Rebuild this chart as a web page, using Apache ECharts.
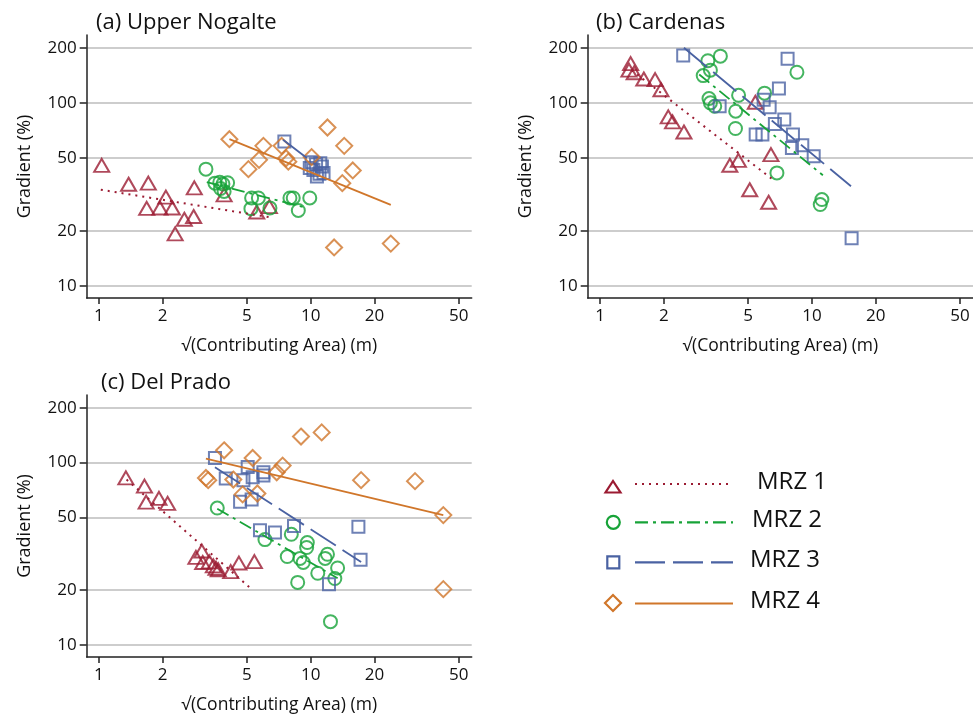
<!DOCTYPE html>
<html><head><meta charset="utf-8">
<script src="https://cdn.jsdelivr.net/npm/echarts@6/dist/echarts.min.js"></script>
<style>html,body{margin:0;padding:0;background:#fff}#c{width:973px;height:715px}</style>
</head><body><div id="c"></div>
<script>
// ---------- tick labels / names ----------
const xTicks = [1, 2, 5, 10, 20, 50];
const yTicks = [10, 20, 50, 100, 200];
const panelTitles = ['(a) Upper Nogalte', '(b) Cardenas', '(c) Del Prado'];
const seriesNames = ['MRZ 1', 'MRZ 2', 'MRZ 3', 'MRZ 4'];
const xName = '√(Contributing Area) (m)';
const yName = 'Gradient (%)';

// ---------- (a) Upper Nogalte ----------
const aMRZ1 = [[1.03,45.5],[1.38,35.9],[1.71,36.4],[2.07,30.5],[1.68,26.5],[1.94,26.6],[2.22,26.6],[2.82,34.3],[2.53,23.1],[2.80,23.9],[2.29,19.2],[3.90,31.4],[5.56,25.3],[6.38,27.1]];
const aMRZ2 = [[3.20,43.4],[3.53,36.4],[3.72,36.8],[3.85,36.0],[4.05,36.6],[3.75,34.0],[3.90,32.8],[5.26,30.2],[5.66,30.2],[5.22,26.4],[6.42,26.6],[7.98,30.2],[8.27,30.2],[8.74,25.8],[9.9,30.2]];
const aMRZ3 = [[7.51,61.5],[9.9,44.0],[10.1,47.4],[11.1,46.8],[11.3,44.9],[10.3,43.0],[10.7,39.6],[11.5,41.3],[10.6,46.2],[11.0,41.0]];
const aMRZ4 = [[4.13,63.3],[5.98,58.2],[7.29,58.2],[5.70,48.8],[5.08,43.4],[7.65,49.8],[7.84,47.7],[10.1,50.5],[12.0,73.3],[14.4,58.2],[15.8,42.7],[14.1,36.4],[12.9,16.2],[23.9,17.0]];
const aFit1 = [[1.02,33.5],[6.38,23.7]];
const aFit2 = [[3.23,36.9],[9.3,26.9]];
const aFit3 = [[7.4,62.8],[10.8,45.0]];
const aFit4 = [[4.13,63.3],[23.9,27.7]];

// ---------- (b) Cardenas ----------
const bMRZ1 = [[1.395,164],[1.37,151],[1.45,146],[1.61,135],[1.82,134],[1.94,118],[2.10,83.8],[2.20,78.7],[2.49,69.3],[5.41,100.8],[6.41,52.1],[4.50,48.5],[4.10,45.6],[5.09,33.5],[6.25,28.6]];
const bMRZ2 = [[3.23,170],[3.70,180],[3.32,151],[3.07,141],[8.50,147],[4.51,110],[5.98,113],[3.27,105.6],[3.32,100],[3.48,95.9],[4.37,90],[4.36,72.4],[6.84,41.4],[11.15,29.6],[10.95,27.8]];
const bMRZ3 = [[2.47,181.6],[7.68,174],[6.99,120],[5.92,104],[6.32,94.7],[3.67,95.9],[7.41,81],[6.69,76.7],[5.43,67.1],[5.84,67.1],[8.14,67.1],[9.01,58.6],[8.05,56.7],[10.2,51.1],[15.4,18.2]];
const bFit1 = [[1.41,151],[6.55,38.0]];
const bFit2 = [[2.94,143],[11.27,40.2]];
const bFit3 = [[2.49,200],[15.3,35.0]];

// ---------- (c) Del Prado ----------
const cMRZ1 = [[1.34,82.4],[1.64,74.3],[1.67,60.7],[1.92,63.6],[2.11,59.7],[3.06,32.7],[2.87,30.2],[3.09,28.3],[3.32,28.5],[3.47,27.1],[3.57,26.3],[3.66,25.8],[4.19,25.2],[4.58,28.1],[5.42,28.6]];
const cMRZ2 = [[3.62,56.3],[6.08,37.8],[8.1,40.4],[9.64,36.4],[9.57,34.2],[7.75,30.5],[8.90,29.8],[9.22,28.3],[12.0,31.4],[11.7,29.8],[13.4,26.4],[10.8,24.7],[13.0,23.1],[8.68,22.0],[12.4,13.4]];
const cMRZ3 = [[3.53,106],[5.04,94.7],[5.98,88.5],[5.98,84.9],[5.32,83.2],[3.97,81.8],[4.81,80.1],[4.64,60.9],[5.26,62.8],[5.76,42.5],[6.78,41.3],[8.34,44.9],[16.8,44.5],[17.2,29.3],[12.2,21.5]];
const cMRZ4 = [[3.90,116.8],[9.0,139],[11.27,146.5],[5.32,106],[7.37,96.3],[6.91,88.5],[3.20,82.4],[3.28,80.1],[4.31,80.7],[17.3,80.1],[31.1,79.1],[4.77,66.9],[5.60,67.7],[42.3,51.5],[42.3,20.2]];
const cFit1 = [[1.35,80.7],[5.26,20.2]];
const cFit2 = [[3.62,55.8],[13.4,23.2]];
const cFit3 = [[3.53,94.3],[17.3,28.5]];
const cFit4 = [[3.20,105],[42.3,51.5]];

// ---------- styles ----------
const FONT = 'Open Sans';
const colors = ['#9B1B32', '#17A338', '#4A62A2', '#D0762A'];
const symbols = ['triangle', 'circle', 'rect', 'diamond'];
const symbolSizes = [[15,13], 13, 12, 16];
const dashes = [[2,5], [13,5,3,5], [30,8], 'solid'];

const X_MIN = 0.875, X_MAX = 57.6, Y_MIN = 8.57, Y_MAX = 235;

const grids = [
  {left: 86.7, top: 35, width: 385, height: 263},
  {left: 587.7, top: 35, width: 385.3, height: 263},
  {left: 86.7, top: 395, width: 385, height: 263}
];

function xAxisFor(i) {
  return {
    type: 'log', logBase: 10, gridIndex: i, min: X_MIN, max: X_MAX,
    name: xName, nameLocation: 'middle', nameGap: 39,
    nameTextStyle: {fontSize: 17.5, color: '#111', fontFamily: FONT},
    axisLine: {show: true, lineStyle: {color: '#222', width: 1.5}},
    axisTick: {show: true, customValues: xTicks, length: 6, lineStyle: {color: '#222', width: 1.5}},
    axisLabel: {customValues: xTicks, fontSize: 17, color: '#111', margin: 10, fontFamily: FONT},
    splitLine: {show: false}, minorTick: {show: false}, minorSplitLine: {show: false}
  };
}
function yAxisFor(i) {
  return {
    type: 'log', logBase: 10, gridIndex: i, min: Y_MIN, max: Y_MAX,
    name: yName, nameLocation: 'middle', nameGap: 53, nameRotate: 90,
    nameTextStyle: {fontSize: 18, color: '#111', fontFamily: FONT},
    axisLine: {show: true, lineStyle: {color: '#222', width: 1.5}},
    axisTick: {show: true, customValues: yTicks, length: 7, lineStyle: {color: '#222', width: 1.5}},
    axisLabel: {customValues: yTicks, fontSize: 17, color: '#111', margin: 10, fontFamily: FONT},
    splitLine: {show: true, lineStyle: {color: '#bdbdbd', width: 1.5}},
    minorTick: {show: false}, minorSplitLine: {show: false}
  };
}

const panelPoints = [[aMRZ1, aMRZ2, aMRZ3, aMRZ4], [bMRZ1, bMRZ2, bMRZ3, null], [cMRZ1, cMRZ2, cMRZ3, cMRZ4]];
const panelFits = [[aFit1, aFit2, aFit3, aFit4], [bFit1, bFit2, bFit3, null], [cFit1, cFit2, cFit3, cFit4]];

const series = [];
panelPoints.forEach((pts, p) => {
  pts.forEach((data, k) => {
    if (!data) return;
    series.push({
      type: 'scatter', name: seriesNames[k], xAxisIndex: p, yAxisIndex: p, data: data,
      symbol: symbols[k], symbolSize: symbolSizes[k], z: 3,
      itemStyle: {color: 'rgba(255,255,255,0)', borderColor: colors[k], borderWidth: 2}
    });
  });
  panelFits[p].forEach((data, k) => {
    if (!data) return;
    series.push({
      type: 'line', name: seriesNames[k], xAxisIndex: p, yAxisIndex: p, data: data,
      showSymbol: false, symbol: 'none', z: 4,
      lineStyle: {color: colors[k], width: k === 0 ? 2 : 1.8, type: dashes[k]}
    });
  });
});

// ---------- legend (drawn as graphic decoration) ----------
const lgY = [484, 522.3, 562.3, 603.5];
const lgTextX = [757, 752, 750, 750];
const graphic = [];
for (let k = 0; k < 4; k++) {
  const y = lgY[k];
  graphic.push({type: 'line', shape: {x1: 635, y1: y, x2: 733, y2: y},
    style: {stroke: colors[k], lineWidth: k === 0 ? 2 : 2.2, lineDash: k === 3 ? null : dashes[k]}});
  graphic.push({type: 'text', left: lgTextX[k], top: y - 14,
    style: {text: seriesNames[k], fontSize: 24, fill: '#111', fontFamily: FONT}});
}
const stroke = (k) => ({stroke: colors[k], lineWidth: 2.2, fill: 'none'});
graphic.push({type: 'polygon', shape: {points: [[605.5,492.5],[620.5,492.5],[613,481]]}, style: stroke(0)});
graphic.push({type: 'circle', shape: {cx: 613.3, cy: 522.3, r: 6.5}, style: stroke(1)});
graphic.push({type: 'rect', shape: {x: 607.3, y: 556.3, width: 12, height: 12}, style: stroke(2)});
graphic.push({type: 'polygon', shape: {points: [[605,603],[613,595],[621,603],[613,611]]}, style: stroke(3)});

const titles = [
  {text: panelTitles[0], left: 96, top: 12},
  {text: panelTitles[1], left: 596, top: 12},
  {text: panelTitles[2], left: 101, top: 372}
].map(t => Object.assign(t, {padding: 0, textStyle: {fontSize: 22, fontWeight: 'normal', color: '#111', fontFamily: FONT}}));

const chart = echarts.init(document.getElementById('c'), null, {renderer: 'canvas'});
chart.setOption({
  backgroundColor: '#fff',
  animation: false,
  title: titles,
  grid: grids,
  xAxis: [0, 1, 2].map(xAxisFor),
  yAxis: [0, 1, 2].map(yAxisFor),
  series: series,
  graphic: graphic
});
</script>
</body></html>
